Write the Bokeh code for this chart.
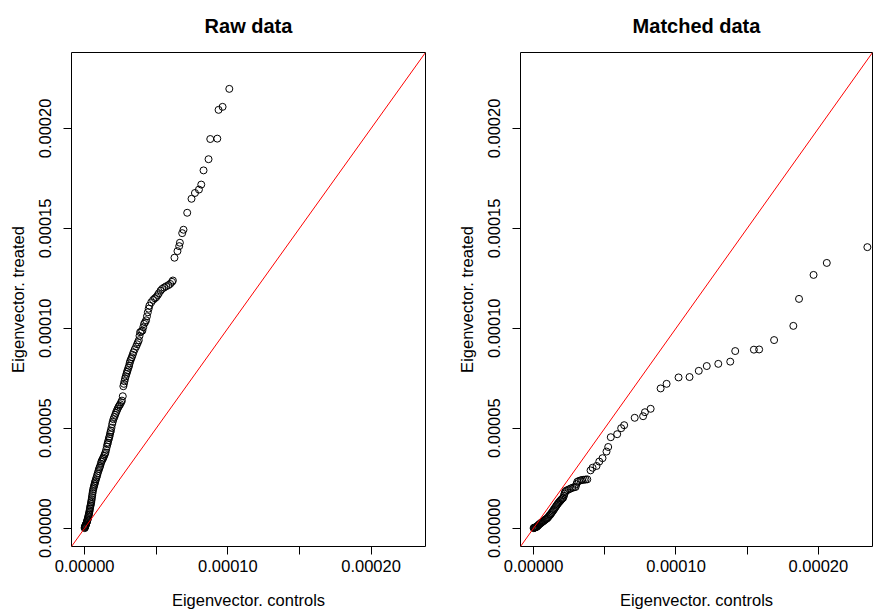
from bokeh.plotting import figure
from bokeh.models import Range1d, FixedTicker, Slope, PrintfTickFormatter
from bokeh.layouts import row
from bokeh.embed import file_html
from bokeh.resources import INLINE

SCALE = 1e-5  # values below are in units of 1e-5

# Raw data: quantiles of eigenvector centrality, controls (x) vs treated (y)
raw_controls = [
    0.00, 0.01, 0.02, 0.03, 0.05, 0.07, 0.09, 0.11, 0.13, 0.15, 0.17, 0.19, 0.21, 0.23, 0.25,
    0.27, 0.29, 0.31, 0.33, 0.35, 0.37, 0.39, 0.41, 0.43, 0.45, 0.47, 0.49, 0.51, 0.53, 0.55,
    0.57, 0.60, 0.63, 0.66, 0.69, 0.72, 0.75, 0.79, 0.83, 0.87, 0.91, 0.96, 1.00, 1.04, 1.08,
    1.13, 1.17, 1.22, 1.27, 1.31, 1.36, 1.41, 1.45, 1.50, 1.55, 1.59, 1.62, 1.66, 1.70, 1.73,
    1.77, 1.80, 1.83, 1.87, 1.92, 1.96, 2.01, 2.07, 2.13, 2.18, 2.24, 2.30, 2.36, 2.42, 2.48,
    2.55, 2.60, 2.66, 2.70, 2.74, 2.78, 2.82, 2.87, 2.92, 2.96, 3.00, 3.05, 3.10, 3.14, 3.18,
    3.24, 3.29, 3.35, 3.41, 3.50, 3.59, 3.66, 3.72, 3.78, 3.83, 3.87, 3.95, 4.03, 4.09, 4.15,
    4.22, 4.29, 4.35, 4.41, 4.47, 4.52, 4.65, 4.78, 4.90, 5.00, 5.10, 5.18, 5.30, 5.41, 5.55,
    5.69, 5.85, 5.97, 6.10, 6.16, 6.27, 6.48, 6.60, 6.65, 6.81, 6.90, 7.16, 7.46, 7.70, 7.98,
    8.14, 8.30, 8.65, 8.77, 9.26, 9.35, 9.63, 10.10,
]
raw_treated = [
    0.00, 0.03, 0.06, 0.09, 0.12, 0.15, 0.18, 0.22, 0.26, 0.30, 0.35, 0.40, 0.45, 0.50, 0.56,
    0.62, 0.68, 0.75, 0.82, 0.90, 0.98, 1.06, 1.13, 1.20, 1.28, 1.36, 1.45, 1.55, 1.65, 1.75,
    1.85, 1.95, 2.04, 2.12, 2.20, 2.28, 2.36, 2.45, 2.54, 2.64, 2.74, 2.86, 2.95, 3.03, 3.11,
    3.22, 3.33, 3.40, 3.47, 3.53, 3.62, 3.70, 3.78, 3.92, 4.08, 4.20, 4.28, 4.40, 4.50, 4.58,
    4.70, 4.80, 4.88, 5.02, 5.20, 5.32, 5.45, 5.56, 5.67, 5.77, 5.87, 5.97, 6.06, 6.13, 6.20,
    6.30, 6.38, 6.60, 7.10, 7.22, 7.35, 7.48, 7.60, 7.72, 7.82, 7.90, 8.02, 8.12, 8.25, 8.36,
    8.46, 8.55, 8.67, 8.80, 8.95, 9.08, 9.20, 9.30, 9.40, 9.62, 9.80, 9.84, 9.88, 10.05, 10.22,
    10.30, 10.40, 10.60, 10.80, 10.98, 11.13, 11.30, 11.42, 11.50, 11.56, 11.66, 11.75, 11.88, 11.97, 12.04,
    12.10, 12.16, 12.22, 12.32, 12.39, 13.53, 13.86, 14.11, 14.28, 14.76, 14.93, 15.78, 16.48, 16.77, 16.94,
    17.19, 17.90, 18.46, 19.47, 19.49, 20.93, 21.08, 21.98,
]

# Matched data
matched_controls = [
    0.00, 0.03, 0.06, 0.09, 0.12, 0.16, 0.20, 0.24, 0.27, 0.31, 0.35, 0.40, 0.45, 0.50, 0.55,
    0.61, 0.67, 0.73, 0.79, 0.85, 0.91, 0.97, 1.03, 1.09, 1.15, 1.20, 1.26, 1.32, 1.38, 1.43,
    1.49, 1.55, 1.61, 1.67, 1.73, 1.79, 1.85, 1.90, 1.96, 2.02, 2.08, 2.13, 2.17, 2.21, 2.25,
    2.36, 2.48, 2.60, 2.72, 2.84, 2.95, 3.01, 3.07, 3.18, 3.30, 3.41, 3.53, 3.65, 3.77, 4.00,
    4.14, 4.42, 4.61, 4.84, 5.12, 5.24, 5.42, 5.87, 6.15, 6.36, 7.10, 7.69, 7.82, 8.22, 8.92,
    9.34, 10.18, 10.95, 11.60, 12.16, 12.97, 13.81, 14.16, 15.47, 15.84, 16.89, 18.24, 18.64, 19.66, 20.59,
    23.44,
]
matched_treated = [
    0.00, 0.01, 0.02, 0.03, 0.04, 0.05, 0.06, 0.08, 0.10, 0.13, 0.16, 0.19, 0.22, 0.25, 0.28,
    0.31, 0.34, 0.37, 0.41, 0.44, 0.47, 0.50, 0.55, 0.61, 0.66, 0.70, 0.76, 0.82, 0.88, 0.94,
    1.00, 1.06, 1.13, 1.19, 1.25, 1.30, 1.35, 1.39, 1.44, 1.48, 1.52, 1.62, 1.72, 1.80, 1.86,
    1.90, 1.94, 1.98, 2.02, 2.04, 2.06, 2.20, 2.32, 2.36, 2.39, 2.41, 2.42, 2.43, 2.44, 2.89,
    3.02, 3.11, 3.33, 3.50, 3.83, 4.06, 4.55, 4.70, 5.00, 5.15, 5.52, 5.60, 5.80, 5.97, 6.99,
    7.22, 7.54, 7.56, 7.87, 8.11, 8.22, 8.33, 8.86, 8.93, 8.94, 9.41, 10.12, 11.47, 12.67, 13.27,
    14.06,
]

axis_lim = [-0.92, 23.8]
x_major_ticks = [0.0, 10.0, 20.0]
x_minor_ticks = [5.0, 15.0]
y_major_ticks = [0.0, 5.0, 10.0, 15.0, 20.0]
x_title = "Eigenvector. controls"
y_title = "Eigenvector. treated"

FONT = "Liberation Sans"


def panel(title, xs, ys, left_border, frame_w, right_border):
    p = figure(
        frame_width=frame_w, frame_height=494,
        min_border_left=left_border, min_border_right=right_border,
        min_border_top=52, min_border_bottom=66,
        x_range=Range1d(axis_lim[0] * SCALE, axis_lim[1] * SCALE),
        y_range=Range1d(axis_lim[0] * SCALE, axis_lim[1] * SCALE),
        output_backend="svg", toolbar_location=None, title=title,
    )
    p.grid.visible = False
    p.outline_line_color = "black"
    p.outline_line_alpha = 1.0
    p.outline_line_width = 1
    p.background_fill_color = "white"
    p.border_fill_color = "white"

    p.title.text_font = FONT
    p.title.text_font_size = "20px"
    p.title.text_font_style = "bold"
    p.title.text_color = "black"
    p.title.align = "center"
    p.title.vertical_align = "top"
    p.title.standoff = 27

    xa = p.xaxis[0]
    xa.ticker = FixedTicker(ticks=[t * SCALE for t in x_major_ticks],
                            minor_ticks=[t * SCALE for t in x_minor_ticks])
    xa.formatter = PrintfTickFormatter(format="%.5f")
    xa.axis_label = x_title
    xa.minor_tick_out = 8
    xa.minor_tick_in = 0

    ya = p.yaxis[0]
    ya.ticker = FixedTicker(ticks=[t * SCALE for t in y_major_ticks])
    ya.formatter = PrintfTickFormatter(format="%.5f")
    ya.axis_label = y_title
    ya.major_label_orientation = "parallel"

    for ax in (xa, ya):
        ax.axis_line_color = None
        ax.major_tick_out = 8
        ax.major_tick_in = 0
        ax.major_tick_line_color = "black"
        ax.minor_tick_line_color = "black"
        ax.major_label_text_font = FONT
        ax.major_label_text_font_size = "16.5px"
        ax.major_label_text_color = "black"
        ax.axis_label_text_font = FONT
        ax.axis_label_text_font_size = "16.5px"
        ax.axis_label_text_font_style = "normal"
        ax.axis_label_text_color = "black"
    xa.major_label_standoff = 5
    xa.axis_label_standoff = 16
    ya.major_label_standoff = 12
    ya.axis_label_standoff = 10

    p.add_layout(Slope(gradient=1, y_intercept=0, line_color="red", line_width=1))
    p.scatter([v * SCALE for v in xs], [v * SCALE for v in ys], marker="circle",
              size=7, fill_color=None, line_color="black", line_width=1)
    return p


p1 = panel("Raw data", raw_controls, raw_treated, 71, 354, 11)
p2 = panel("Matched data", matched_controls, matched_treated, 84, 352, 1)
layout = row(p1, p2)

open("out.html", "w").write(file_html(layout, INLINE))
